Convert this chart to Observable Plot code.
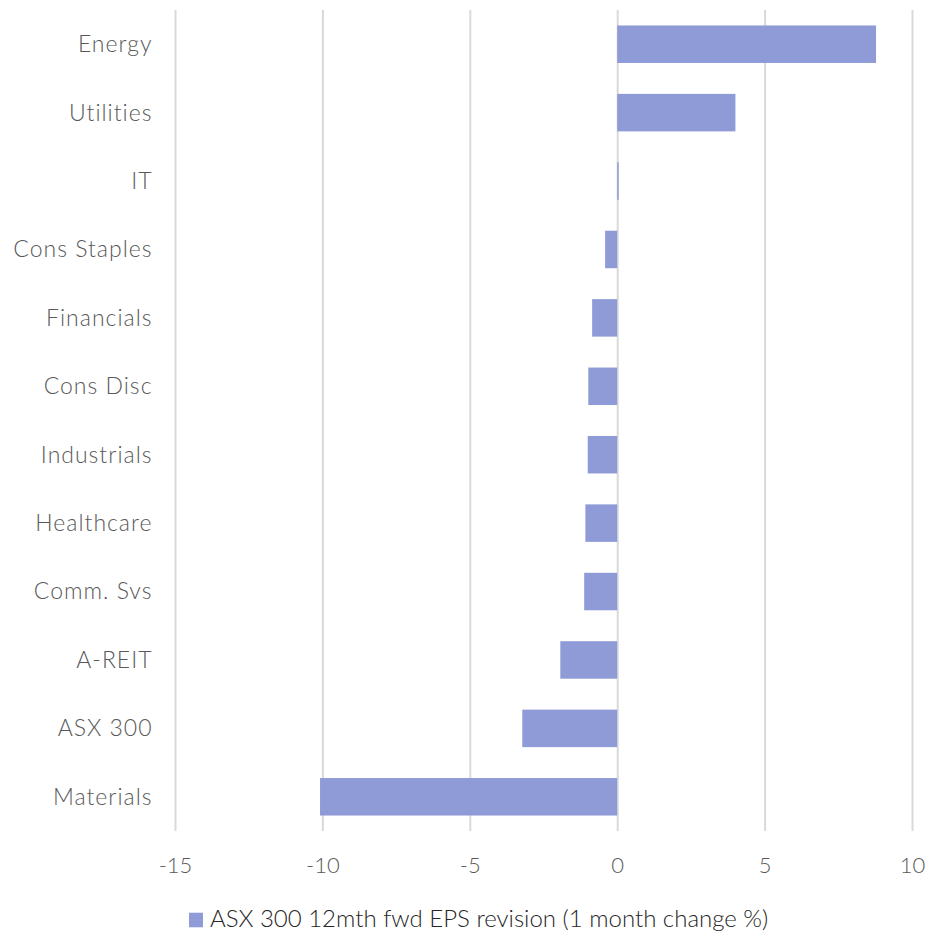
<!DOCTYPE html>
<html>
<head>
<meta charset="utf-8">
<script src="https://cdn.jsdelivr.net/npm/d3@7"></script>
<script src="https://cdn.jsdelivr.net/npm/@observablehq/plot@0.6"></script>
<style>
  html, body { margin: 0; padding: 0; background: #fff; }
  #wrap { position: relative; width: 940px; height: 931px; overflow: hidden; }
  #chart { position: absolute; left: 0; top: 0; }
  #legend { position: absolute; left: 0; top: 880px; }
  #chart g[aria-label="y-axis tick label"] text { letter-spacing: 1px; }
</style>
</head>
<body>
<div id="wrap">
  <div id="chart"></div>
  <div id="legend"></div>
</div>
<script>
const sectors = ["Energy", "Utilities", "IT", "Cons Staples", "Financials", "Cons Disc", "Industrials", "Healthcare", "Comm. Svs", "A-REIT", "ASX 300", "Materials"];
const revisions = [8.78, 4.01, 0.05, -0.41, -0.85, -0.98, -1.0, -1.08, -1.12, -1.93, -3.22, -10.08];
const xTicks = [-15, -10, -5, 0, 5, 10];
const seriesName = "ASX 300 12mth fwd EPS revision (1 month change %)";
const barColor = "#8e9bd6";

const data = sectors.map((s, i) => ({sector: s, value: revisions[i]}));
const font = "Lato, 'Open Sans', sans-serif";

const chart = Plot.plot({
  width: 940,
  height: 880,
  marginTop: 10,
  marginBottom: 49,
  marginLeft: 175,
  marginRight: 28,
  style: {fontFamily: font, fontSize: "22px", fontWeight: 300, color: "#595959", background: "#fff"},
  x: {domain: [-15, 10], ticks: xTicks, label: null},
  y: {domain: sectors, paddingInner: 0.452, paddingOuter: 0.226, round: false, label: null},
  marks: [
    Plot.gridX(xTicks, {stroke: "#d9d9d9", strokeOpacity: 1, strokeWidth: 2}),
    Plot.barX(data, {x: "value", y: "sector", fill: barColor}),
    Plot.axisX({ticks: xTicks, tickSize: 0, tickPadding: 26, label: null, fill: "#595959", fontSize: 22, tickFormat: d => String(d)}),
    Plot.axisY({tickSize: 0, tickPadding: 23, label: null, fill: "#595959", fontSize: 23})
  ]
});
document.getElementById("chart").appendChild(chart);

// legend below the chart
const leg = d3.select("#legend").append("svg").attr("width", 940).attr("height", 51);
leg.append("rect").attr("x", 189).attr("y", 32.7).attr("width", 14).attr("height", 14.6).attr("fill", barColor);
leg.append("text").attr("x", 210).attr("y", 47)
  .attr("font-family", font).attr("font-weight", 300).attr("font-size", 24)
  .attr("fill", "#262626").text(seriesName);
</script>
</body>
</html>
